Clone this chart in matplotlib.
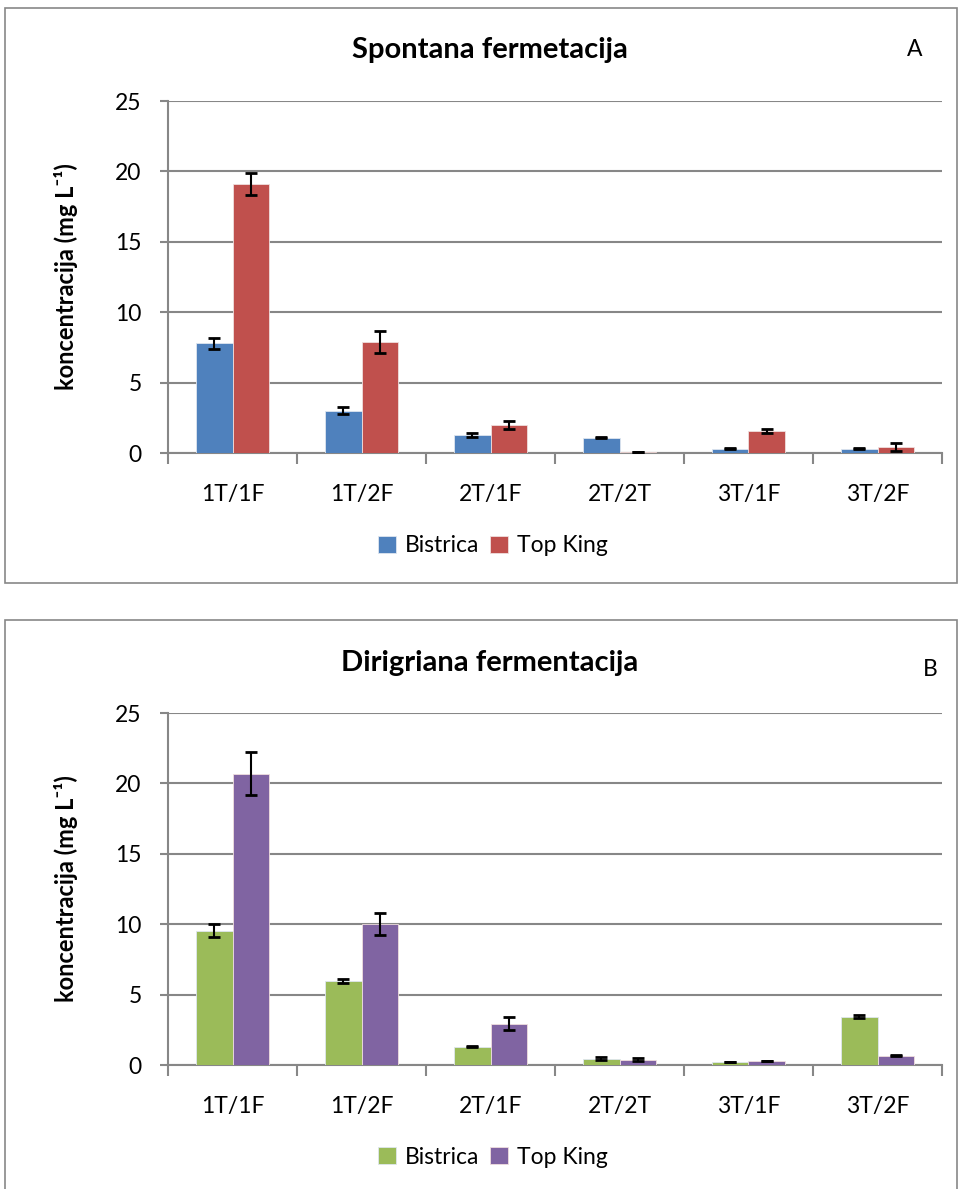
import numpy as np
import matplotlib
matplotlib.use('Agg')
import matplotlib.pyplot as plt
from matplotlib.patches import Rectangle

plt.rcParams['font.family'] = ['Lato', 'DejaVu Sans']

categories = ['1T/1F', '1T/2F', '2T/1F', '2T/2T', '3T/1F', '3T/2F']
series = ['Bistrica', 'Top King']

# A - spontana fermentacija
a_bistrica = [7.8, 3.0, 1.28, 1.1, 0.3, 0.3]
a_bistrica_err = [0.4, 0.25, 0.15, 0.03, 0.03, 0.03]
a_topking = [19.1, 7.9, 2.0, 0.05, 1.55, 0.43]
a_topking_err = [0.8, 0.8, 0.3, 0.0, 0.12, 0.3]

# B - dirigirana fermentacija
b_bistrica = [9.55, 5.97, 1.3, 0.45, 0.21, 3.43]
b_bistrica_err = [0.45, 0.15, 0.02, 0.12, 0.03, 0.1]
b_topking = [20.7, 10.0, 2.93, 0.37, 0.28, 0.66]
b_topking_err = [1.55, 0.8, 0.46, 0.12, 0.03, 0.04]

grey = '#878787'
fs = 16.5

fig = plt.figure(figsize=(9.58, 11.89), dpi=100)

# panel borders
fig.add_artist(Rectangle((5 / 958, 1 - 583 / 1189), 952 / 958, 575 / 1189,
                         transform=fig.transFigure, fill=False, ec=grey, lw=1.2))
fig.add_artist(Rectangle((5 / 958, 1 - 1200 / 1189), 952 / 958, 580 / 1189,
                         transform=fig.transFigure, fill=False, ec=grey, lw=1.2))


def panel(bottom_px, title, letter, letter_xy, vals1, err1, vals2, err2, c1, c2, title_y, leg_y):
    ax = fig.add_axes([168 / 958, 1 - bottom_px / 1189, 774 / 958, 352 / 1189])
    x = np.arange(len(categories))
    w = 0.28
    ax.bar(x - w / 2, vals1, w, color=c1, edgecolor='#dfe6ef', linewidth=0.6, label=series[0], zorder=3)
    ax.bar(x + w / 2, vals2, w, color=c2, edgecolor='#efdede', linewidth=0.6, label=series[1], zorder=3)
    ax.errorbar(x - w / 2, vals1, yerr=err1, fmt='none', ecolor='black', elinewidth=1.5,
                capsize=4.5, capthick=2, zorder=4)
    ax.errorbar(x + w / 2, vals2, yerr=err2, fmt='none', ecolor='black', elinewidth=1.5,
                capsize=4.5, capthick=2, zorder=4)
    ax.set_xlim(-0.5, len(categories) - 0.5)
    ax.set_ylim(0, 25)
    ax.set_yticks([0, 5, 10, 15, 20, 25])
    ax.yaxis.grid(True, color=grey, linewidth=1.5, zorder=0)
    ax.set_axisbelow(True)
    for s in ['top', 'right']:
        ax.spines[s].set_visible(False)
    for s in ['left', 'bottom']:
        ax.spines[s].set_color(grey)
        ax.spines[s].set_linewidth(1.5)
    ax.set_xticks(np.arange(len(categories) + 1) - 0.5)
    ax.set_xticklabels([])
    ax.set_xticks(x, minor=True)
    ax.set_xticklabels(categories, minor=True, fontsize=fs)
    ax.tick_params(axis='x', which='major', length=8, width=1.5, color=grey, direction='out')
    ax.tick_params(axis='x', which='minor', length=0, pad=22)
    ax.tick_params(axis='y', length=6, width=1.5, color=grey, labelsize=fs, pad=13)
    ax.set_ylabel('koncentracija (mg L⁻¹)', fontsize=17, fontweight='bold', labelpad=27)
    fig.text(490 / 958, 1 - title_y / 1189, title, ha='center', va='center',
             fontsize=21, fontweight='bold')
    fig.text(letter_xy[0] / 958, 1 - letter_xy[1] / 1189, letter, ha='center', va='center', fontsize=fs)
    ax.legend(loc='center', bbox_to_anchor=(493 / 958, 1 - leg_y / 1189),
              bbox_transform=fig.transFigure, ncol=2, frameon=False, fontsize=fs,
              handlelength=0.8, handleheight=0.8, handletextpad=0.4, columnspacing=0.45)
    return ax


panel(453, 'Spontana fermetacija', 'A', (915, 50), a_bistrica, a_bistrica_err,
      a_topking, a_topking_err, '#4F81BD', '#C0504D', 50, 546)
panel(1065, 'Dirigriana fermentacija', 'B', (930, 670), b_bistrica, b_bistrica_err,
      b_topking, b_topking_err, '#9BBB59', '#8064A2', 663, 1157)

fig.savefig('out.png', dpi=100)
